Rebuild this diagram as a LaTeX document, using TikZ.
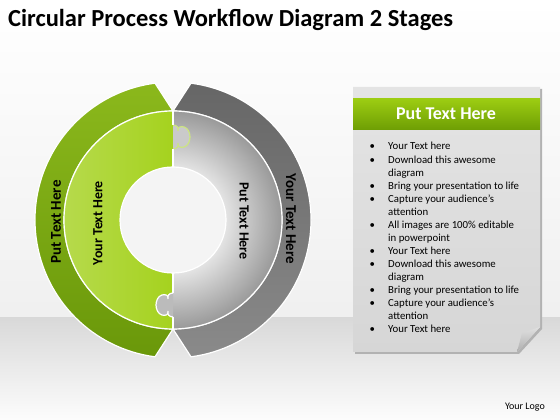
\documentclass[tikz,border=0pt]{standalone}
\usepackage{fontspec}
\setmainfont{Carlito}
\usetikzlibrary{positioning}

\definecolor{leafdark}{HTML}{6A980A}
\definecolor{leaflite}{HTML}{8BB81C}
\definecolor{limeleft}{HTML}{B6DA4C}
\definecolor{limeright}{HTML}{A5D21E}
\definecolor{ashdark}{HTML}{666666}
\definecolor{ashlite}{HTML}{8A8A8A}
\definecolor{graylite}{HTML}{E4E4E4}
\definecolor{graydeep}{HTML}{999999}
\definecolor{holefill}{HTML}{F4F4F4}
\definecolor{paper}{HTML}{E4E4E4}
\definecolor{paperlow}{HTML}{D6D6D6}
\definecolor{headtop}{HTML}{9CCC12}
\definecolor{headlow}{HTML}{6E9E04}

\pgfdeclareradialshading{graymid}{\pgfpoint{0bp}{0bp}}{%
  color(0bp)=(graylite); color(12bp)=(graylite); color(25bp)=(graydeep); color(50bp)=(graydeep)}

\tikzset{
  knob/.pic={
    \path[pic actions] (0,12) .. controls (4,12) and (6,9) .. (5,6)
      .. controls (4,10) and (8,11) .. (11,10)
      .. controls (15,9) and (17,4) .. (17,0)
      .. controls (17,-4) and (15,-9) .. (11,-10)
      .. controls (8,-11) and (4,-10) .. (5,-6)
      .. controls (6,-9) and (4,-12) .. (0,-12);
  }
}

\begin{document}
\begin{tikzpicture}[x=1pt, y=1pt,
    seam/.style={draw=white, line width=1.2pt},
    ringtext/.style={font=\bfseries\fontsize{15}{15}\selectfont, inner sep=0pt},
    bandtext/.style={font=\bfseries\fontsize{14}{14}\selectfont, inner sep=0pt}]
    \useasboundingbox (0,0) rectangle (560,420);

    % Background: wall and floor
    \shade[top color=white, bottom color=black!6] (0,102) rectangle (560,420);
    \shade[top color=black!15, bottom color=black!1] (0,0) rectangle (560,102);

    % Title
    \node[anchor=base west, inner sep=0pt, font=\bfseries\fontsize{24.5}{28}\selectfont] (title) at (8,393)
        {Circular Process Workflow Diagram 2 Stages};

    % Centre of the ring
    \coordinate (c) at (173,200);

    % Outer bands
    \shade[seam, top color=leaflite, bottom color=leafdark]
        ([shift={(97.5:138)}]c) arc[start angle=97.5, end angle=262.5, radius=138]
        -- ([shift={(270:109)}]c) arc[start angle=270, end angle=90, radius=109] -- cycle;
    \shade[seam, top color=ashdark, bottom color=ashlite]
        ([shift={(82.5:138)}]c) arc[start angle=82.5, end angle=-82.5, radius=138]
        -- ([shift={(-90:109)}]c) arc[start angle=-90, end angle=90, radius=109] -- cycle;

    % Middle ring, two puzzle halves
    \shade[left color=limeleft, right color=limeright]
        ([shift={(90:109)}]c) arc[start angle=90, end angle=270, radius=109]
        -- ([shift={(270:53)}]c) arc[start angle=270, end angle=90, radius=53] -- cycle;
    \begin{scope}
        \clip ([shift={(90:109)}]c) arc[start angle=90, end angle=-90, radius=109]
            -- ([shift={(-90:53)}]c) arc[start angle=-90, end angle=90, radius=53] -- cycle;
        \shade[shading=graymid] (c) circle (109);
    \end{scope}
    \pic[fill=graylite!65!graydeep, draw=limeleft!70!white, line width=1.2pt] at (173,283) {knob};
    \pic[xscale=-1, fill=graylite!45!graydeep, draw=white, line width=1.2pt] at (173,115) {knob};

    % Seams of the middle ring
    \draw[seam] (c) circle (109);
    \draw[seam] (173,309) -- (173,295);
    \draw[seam] (173,271) -- (173,253);
    \draw[seam] (173,147) -- (173,127);
    \draw[seam] (173,103) -- (173,91);
    \draw[seam, fill=holefill] (c) circle (53);

    % Ring labels
    \node[ringtext, rotate=90] (leftout) at (56,198) {Put Text Here};
    \node[bandtext, rotate=90] (leftmid) at (98,197) {Your Text Here};
    \node[bandtext, rotate=-90] (rightmid) at (244,199) {Put Text Here};
    \node[ringtext, rotate=-90] (rightout) at (291,201) {Your Text Here};

    % Note sheet with folded corner
    \fill[black!30] (355,331) -- (542,331) -- (542,91) -- (519,66) -- (355,66) -- cycle;
    \shade[top color=paper, bottom color=paperlow]
        (353,333) -- (540,333) -- (540,93) -- (517,68) -- (353,68) -- cycle;
    \shade[top color=black!12, bottom color=black!32] (540,93) -- (517,68) -- (522,87) -- cycle;
    \shade[top color=headtop, bottom color=headlow] (353,321) rectangle (540,290);
    \node[font=\bfseries\fontsize{18}{18}\selectfont, text=white] (head) at (446,306) {Put Text Here};

    % Bullet list
    \node[anchor=base west, inner sep=0pt, font=\fontsize{10.8}{13.05}\selectfont] (list) at (369.5,270)
        {\begin{tabular}[t]{@{}p{18.5pt}@{}l@{}}
            \textbullet & Your Text here\\
            \textbullet & Download this awesome\\
                        & diagram\\
            \textbullet & Bring your presentation to life\\
            \textbullet & Capture your audience’s\\
                        & attention\\
            \textbullet & All images are 100\% editable\\
                        & in powerpoint\\
            \textbullet & Your Text here\\
            \textbullet & Download this awesome\\
                        & diagram\\
            \textbullet & Bring your presentation to life\\
            \textbullet & Capture your audience’s\\
                        & attention\\
            \textbullet & Your Text here
        \end{tabular}};

    % Logo text
    \node[anchor=east, inner sep=0pt, font=\fontsize{10}{12}\selectfont] (logo) at (545,13) {Your Logo};
\end{tikzpicture}
\end{document}
